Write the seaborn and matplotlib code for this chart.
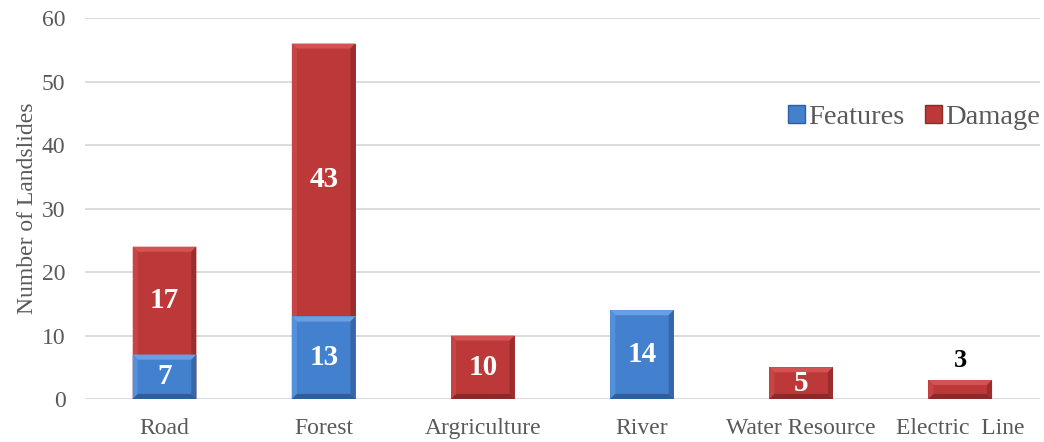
import pandas as pd
import matplotlib.pyplot as plt
import seaborn as sns
from matplotlib.patches import Polygon, Patch

# data
categories = ['Road', 'Forest', 'Argriculture', 'River', 'Water Resource', 'Electric  Line']
features = [7, 13, 0, 14, 0, 0]
damage = [17, 43, 10, 0, 5, 3]

BLUE = '#4381CF'
RED = '#BD3939'
SHADES = {
    BLUE: ('#6B9FE4', '#5590DA', '#3468AB', '#2F5E9C'),
    RED: ('#D55252', '#C94545', '#9C2D2D', '#8E2929'),
}


def set_font():
    sns.set_theme(style='white')
    plt.rcParams['font.family'] = ['Liberation Serif', 'DejaVu Serif']


def add_bevel(ax, patch, color, bx, by):
    # light top / left edge, dark right / bottom edge, built from the bar itself
    x0, y0 = patch.get_x(), patch.get_y()
    w, h = patch.get_width(), patch.get_height()
    if h <= 0:
        return
    by = min(by, h / 3)
    x1, y1 = x0 + w, y0 + h
    top, left, right, bottom = SHADES[color]
    polys = [
        ([(x0, y1), (x1, y1), (x1 - bx, y1 - by), (x0 + bx, y1 - by)], top),
        ([(x0, y0), (x0, y1), (x0 + bx, y1 - by), (x0 + bx, y0 + by)], left),
        ([(x1, y0), (x1, y1), (x1 - bx, y1 - by), (x1 - bx, y0 + by)], right),
        ([(x0, y0), (x1, y0), (x1 - bx, y0 + by), (x0 + bx, y0 + by)], bottom),
    ]
    for pts, c in polys:
        ax.add_patch(Polygon(pts, closed=True, facecolor=c, edgecolor='none', zorder=patch.get_zorder() + 0.1))


def plot_landslides(output_path):
    df = pd.DataFrame({'category': categories, 'features': features, 'damage': damage})
    df['total'] = df['features'] + df['damage']

    fig = plt.figure(figsize=(10.44, 4.42), dpi=100)
    ax = fig.add_axes([0.0814, 0.0973, 0.9146, 0.8617])

    sns.barplot(data=df, x='category', y='total', color=RED, width=0.4,
                saturation=1, edgecolor='none', ax=ax, zorder=3)
    n_red = len(ax.patches)
    sns.barplot(data=df, x='category', y='features', color=BLUE, width=0.4,
                saturation=1, edgecolor='none', ax=ax, zorder=4)

    ax.set_xlim(-0.5, len(categories) - 0.5)
    ax.set_ylim(0, 60)
    ax.set_yticks(range(0, 61, 10))

    for i, p in enumerate(ax.patches):
        add_bevel(ax, p, RED if i < n_red else BLUE, 0.032, 0.8)

    for i, row in df.iterrows():
        if row['features'] > 0:
            ax.text(i, row['features'] / 2, str(row['features']), ha='center', va='center',
                    color='white', fontsize=21, fontweight='bold', zorder=6)
        if row['damage'] > 0:
            if row['damage'] >= 5:
                ax.text(i, row['features'] + row['damage'] / 2, str(row['damage']),
                        ha='center', va='center', color='white', fontsize=21,
                        fontweight='bold', zorder=6)
            else:
                ax.annotate(str(row['damage']), (i, row['total']), xytext=(0, 6),
                            textcoords='offset points', ha='center', va='bottom',
                            color='black', fontsize=19, fontweight='bold', zorder=6)

    ax.grid(axis='y', color='#D9D9D9', linewidth=1.3, zorder=0)
    ax.set_axisbelow(True)
    sns.despine(ax=ax, left=True, bottom=True)
    ax.tick_params(axis='both', length=0, labelsize=17, colors='#595959')
    ax.tick_params(axis='y', pad=14)
    ax.tick_params(axis='x', pad=14)
    ax.set_xlabel('')
    ax.set_ylabel('Number of Landslides', fontsize=17, color='#595959', labelpad=3)

    handles = [Patch(facecolor=BLUE, edgecolor='#2F5E9C', label='Features'),
               Patch(facecolor=RED, edgecolor='#8E2929', label='Damage')]
    ax.legend(handles=handles, loc='center right', bbox_to_anchor=(1.012, 0.74), ncol=2,
              frameon=False, fontsize=20.5, handlelength=0.6, handleheight=0.6,
              handletextpad=0.12, columnspacing=0.7, borderaxespad=0,
              labelcolor='#595959')

    fig.savefig(output_path, dpi=100)
    plt.close(fig)


if __name__ == '__main__':
    set_font()
    plot_landslides('out.png')
